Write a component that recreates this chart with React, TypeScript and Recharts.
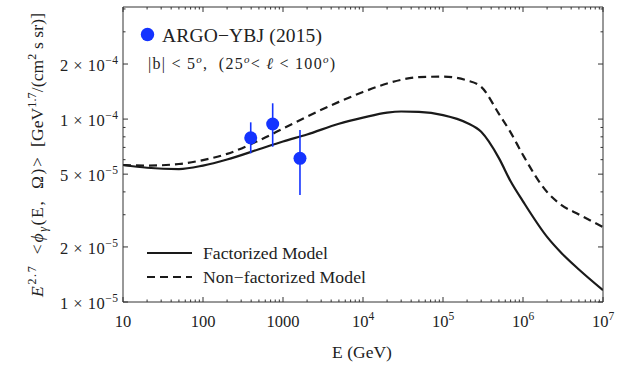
import React from 'react';
import { ComposedChart, Line, Scatter, ErrorBar, XAxis, YAxis, Legend } from 'recharts';

// Energy grid of the model curves (GeV)
const energyGeV = [10, 20, 50, 100, 200, 500, 1000, 2000, 5000, 1e4, 2e4, 3e4, 5e4, 1e5, 2e5, 3e5, 5e5, 7e5, 1e6, 2e6, 3e6, 5e6, 1e7];
// E^2.7 <phi_gamma> for the factorized model
const factorizedFlux = [5.61e-5, 5.42e-5, 5.33e-5, 5.57e-5, 6.01e-5, 6.84e-5, 7.54e-5, 8.24e-5, 9.43e-5, 1.018e-4, 1.085e-4, 1.1e-4, 1.095e-4, 1.052e-4, 9.53e-5, 8.52e-5, 6.12e-5, 4.57e-5, 3.55e-5, 2.27e-5, 1.86e-5, 1.505e-5, 1.16e-5];
// E^2.7 <phi_gamma> for the non-factorized model
const nonFactorizedFlux = [5.61e-5, 5.57e-5, 5.68e-5, 5.97e-5, 6.45e-5, 7.64e-5, 8.87e-5, 1.032e-4, 1.242e-4, 1.406e-4, 1.565e-4, 1.64e-4, 1.696e-4, 1.707e-4, 1.627e-4, 1.502e-4, 1.068e-4, 8.46e-5, 6.36e-5, 3.99e-5, 3.4e-5, 3.01e-5, 2.57e-5];

// ARGO-YBJ (2015) measurements
const argoEnergy = [395, 743, 1630];
const argoFlux = [7.9e-5, 9.4e-5, 6.1e-5];
const argoErrLow = [1.4e-5, 2.34e-5, 2.26e-5];
const argoErrHigh = [1.7e-5, 2.8e-5, 2.61e-5];

// Axis ticks
const xMajorTicks = [10, 100, 1000, 1e4, 1e5, 1e6, 1e7];
const xTickBase = ['10', '100', '1000', '10', '10', '10', '10'];
const xTickExp = ['', '', '', '4', '5', '6', '7'];
const yMajorTicks = [1e-5, 2e-5, 5e-5, 1e-4, 2e-4];
const yTickMantissa = ['1', '2', '5', '1', '2'];
const yTickExp = ['5', '5', '5', '4', '4'];

const xMinorTicks: number[] = [];
for (let d = 10; d < 1e7; d *= 10) for (let m = 2; m <= 9; m++) xMinorTicks.push(d * m);
const yMinorTicks = [3e-5, 4e-5, 6e-5, 7e-5, 8e-5, 9e-5, 3e-4, 4e-4];
const xAllTicks = [...xMajorTicks, ...xMinorTicks].sort((a, b) => a - b);
const yAllTicks = [...yMajorTicks, ...yMinorTicks].sort((a, b) => a - b);

const factorizedData = energyGeV.map((E, i) => ({ E, flux: factorizedFlux[i] }));
const nonFactorizedData = energyGeV.map((E, i) => ({ E, flux: nonFactorizedFlux[i] }));
const argoData = argoEnergy.map((E, i) => ({ E, flux: argoFlux[i], err: [argoErrLow[i], argoErrHigh[i]] }));

const SERIF = { fontFamily: "'Liberation Serif', 'DejaVu Serif', serif" };
const TEXT = '#222';
const FRAME = '#333';
const BLUE = '#1433ff';

const near = (a: number, b: number) => Math.abs(a - b) / b < 1e-6;

const XTick = (props: any) => {
  const { x, y, payload, side } = props;
  const v = payload.value;
  const idx = xMajorTicks.findIndex((t) => near(v, t));
  const major = idx >= 0;
  const len = major ? 5 : 2.5;
  const dir = side === 'bottom' ? -1 : 1;
  return (
    <g>
      <line x1={x} x2={x} y1={y} y2={y + dir * len} stroke={FRAME} strokeWidth={1} />
      {side === 'bottom' && major && (
        <text x={x} y={y + 25} textAnchor="middle" style={SERIF} fontSize={16.5} fill={TEXT}>
          {xTickBase[idx]}
          {xTickExp[idx] && (
            <tspan dy={-7} fontSize={11.5}>
              {xTickExp[idx]}
            </tspan>
          )}
        </text>
      )}
    </g>
  );
};

const YTick = (props: any) => {
  const { x, y, payload, side } = props;
  const v = payload.value;
  const idx = yMajorTicks.findIndex((t) => near(v, t));
  const major = idx >= 0;
  const len = major ? 5 : 2.5;
  const dir = side === 'left' ? 1 : -1;
  return (
    <g>
      <line x1={x} x2={x + dir * len} y1={y} y2={y} stroke={FRAME} strokeWidth={1} />
      {side === 'left' && major && (
        <text
          x={x - 5}
          y={y + 7}
          textAnchor="end"
          style={SERIF}
          fontSize={16.5}
          fill={TEXT}
          textLength={58}
          lengthAdjust="spacing"
        >
          {yTickMantissa[idx]}
          <tspan>{' × '}</tspan>10
          <tspan dy={-7} fontSize={11.5}>
            {'−' + yTickExp[idx]}
          </tspan>
        </text>
      )}
    </g>
  );
};

const YTitle = () => (
  <g transform="rotate(-90)" style={SERIF} fontSize={17.5} fill={TEXT}>
    <text x={-297} y={43} textLength={140} lengthAdjust="spacing">
      <tspan fontStyle="italic">E</tspan>
      <tspan dy={-7} fontSize={12}>2.7</tspan>
      <tspan dy={7}>{'\u2002<'}</tspan>
      <tspan fontStyle="italic">ϕ</tspan>
      <tspan dy={4} fontSize={12} fontStyle="italic">γ</tspan>
      <tspan dy={-4}>{'(E,\u2002Ω)>'}</tspan>
    </text>
    <text x={-147} y={43} textLength={134} lengthAdjust="spacing">
      [GeV
      <tspan dy={-7} fontSize={12}>1.7</tspan>
      <tspan dy={7}>/(cm</tspan>
      <tspan dy={-7} fontSize={12}>2</tspan>
      <tspan dy={7}> s sr)]</tspan>
    </text>
  </g>
);

const LegendPanel = () => (
  <svg width={618} height={365} style={{ position: 'absolute', left: 0, top: 0 }}>
    <circle cx={147.5} cy={34.5} r={6.7} fill={BLUE} />
    <text x={162} y={42} style={SERIF} fontSize={19.5} fill={TEXT} textLength={160} lengthAdjust="spacing">
      ARGO−YBJ (2015)
    </text>
    <text x={148} y={69} style={SERIF} fontSize={16} fill={TEXT} textLength={187} lengthAdjust="spacing">
      |b| &lt; 5
      <tspan dy={-6} fontSize={11} fontStyle="italic">o</tspan>
      <tspan dy={6}>{',\u00a0\u00a0(25'}</tspan>
      <tspan dy={-6} fontSize={11} fontStyle="italic">o</tspan>
      <tspan dy={6}>{'<\u00a0'}</tspan>
      <tspan fontStyle="italic">ℓ</tspan>
      <tspan>{' < 100'}</tspan>
      <tspan dy={-6} fontSize={11} fontStyle="italic">o</tspan>
      <tspan dy={6}>)</tspan>
    </text>
    <line x1={147} x2={192} y1={253} y2={253} stroke="#1a1a1a" strokeWidth={2.2} />
    <text x={203} y={259} style={SERIF} fontSize={17.7} fill={TEXT} textLength={125} lengthAdjust="spacing">
      Factorized Model
    </text>
    <line x1={147} x2={192} y1={277} y2={277} stroke="#1a1a1a" strokeWidth={2.2} strokeDasharray="8 5" />
    <text x={203} y={283} style={SERIF} fontSize={17.7} fill={TEXT} textLength={163} lengthAdjust="spacing">
      Non−factorized Model
    </text>
  </svg>
);

export default function App() {
  return (
    <div style={{ position: 'absolute', left: 0, top: 0, width: 618, height: 365, background: '#fff' }}>
      <ComposedChart width={618} height={365} margin={{ top: 6, right: 14, bottom: 0, left: 0 }}>
        <XAxis
          xAxisId="bottom"
          dataKey="E"
          type="number"
          scale="log"
          domain={[10, 1e7]}
          allowDataOverflow
          ticks={xAllTicks}
          interval={0}
          height={63}
          tickSize={0}
          tickMargin={0}
          stroke={FRAME}
          tick={(p: any) => <XTick {...p} side="bottom" />}
          label={{
            content: () => (
              <text x={362} y={358} textAnchor="middle" style={SERIF} fontSize={17.5} fill={TEXT}>
                E (GeV)
              </text>
            ),
          }}
        />
        <XAxis
          xAxisId="top"
          orientation="top"
          dataKey="E"
          type="number"
          scale="log"
          domain={[10, 1e7]}
          allowDataOverflow
          ticks={xAllTicks}
          interval={0}
          height={1}
          tickSize={0}
          tickMargin={0}
          stroke={FRAME}
          tick={(p: any) => <XTick {...p} side="top" />}
        />
        <YAxis
          yAxisId="left"
          dataKey="flux"
          type="number"
          scale="log"
          domain={[1e-5, 4.1e-4]}
          allowDataOverflow
          ticks={yAllTicks}
          interval={0}
          width={123}
          tickSize={0}
          tickMargin={0}
          stroke={FRAME}
          tick={(p: any) => <YTick {...p} side="left" />}
          label={{ content: () => <YTitle /> }}
        />
        <YAxis
          yAxisId="right"
          orientation="right"
          dataKey="flux"
          type="number"
          scale="log"
          domain={[1e-5, 4.1e-4]}
          allowDataOverflow
          ticks={yAllTicks}
          interval={0}
          width={1}
          tickSize={0}
          tickMargin={0}
          stroke={FRAME}
          tick={(p: any) => <YTick {...p} side="right" />}
        />
        {/* invisible series bound to the mirrored top/right frame axes */}
        <Line
          xAxisId="top"
          yAxisId="right"
          data={factorizedData}
          dataKey="flux"
          stroke="none"
          dot={false}
          activeDot={false}
          legendType="none"
          isAnimationActive={false}
        />
        <Line
          xAxisId="bottom"
          yAxisId="left"
          data={factorizedData}
          dataKey="flux"
          type="monotone"
          stroke="#1a1a1a"
          strokeWidth={2.2}
          dot={false}
          activeDot={false}
          isAnimationActive={false}
        />
        <Line
          xAxisId="bottom"
          yAxisId="left"
          data={nonFactorizedData}
          dataKey="flux"
          type="monotone"
          stroke="#1a1a1a"
          strokeWidth={2.2}
          strokeDasharray="8 5"
          dot={false}
          activeDot={false}
          isAnimationActive={false}
        />
        <Scatter
          xAxisId="bottom"
          yAxisId="left"
          data={argoData}
          dataKey="flux"
          fill={BLUE}
          isAnimationActive={false}
          shape={(p: any) => <circle cx={p.cx} cy={p.cy} r={6.5} fill={BLUE} />}
        >
          <ErrorBar dataKey="err" direction="y" width={0} stroke={BLUE} strokeWidth={1.6} isAnimationActive={false} />
        </Scatter>
        <Legend
          verticalAlign="middle"
          align="center"
          layout="horizontal"
          wrapperStyle={{ position: 'absolute', left: 0, top: 0, width: 618, height: 365, pointerEvents: 'none' }}
          content={() => <LegendPanel />}
        />
      </ComposedChart>
    </div>
  );
}
